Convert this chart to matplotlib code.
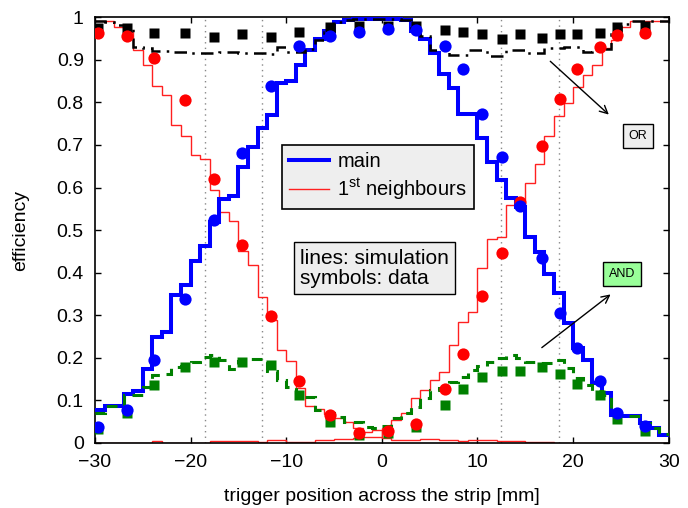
import numpy as np
import matplotlib.pyplot as plt
from matplotlib.lines import Line2D

plt.rcParams['font.family'] = ['Liberation Sans', 'DejaVu Sans']
plt.rcParams['mathtext.fontset'] = 'custom'
plt.rcParams['mathtext.rm'] = 'Liberation Sans'
plt.rcParams['mathtext.it'] = 'Liberation Sans:italic'

# simulation, 1 mm bins from -30 to 30
bin_edges = np.arange(-30, 31)

sim_main = [0.077, 0.087, 0.087, 0.115, 0.123, 0.173, 0.248, 0.261, 0.348, 0.371,
            0.428, 0.463, 0.520, 0.573, 0.580, 0.649, 0.695, 0.739, 0.770, 0.845,
            0.850, 0.889, 0.923, 0.949, 0.968, 0.988, 0.994, 0.995, 0.996, 0.996,
            0.996, 0.995, 0.994, 0.968, 0.949, 0.915, 0.866, 0.833, 0.773, 0.773,
            0.716, 0.661, 0.618, 0.576, 0.555, 0.483, 0.449, 0.397, 0.352, 0.281,
            0.222, 0.195, 0.140, 0.117, 0.066, 0.063, 0.063, 0.046, 0.035, 0.019]

sim_left = [0.992, 0.992, 0.978, 0.965, 0.923, 0.888, 0.839, 0.817, 0.747, 0.720,
            0.677, 0.666, 0.594, 0.543, 0.521, 0.452, 0.418, 0.344, 0.289, 0.218,
            0.193, 0.128, 0.087, 0.079, 0.067, 0.058, 0.050, 0.035, 0.025, 0.030,
            0.012, 0.008, 0.008, 0.008, 0.010, 0.010, 0.008, 0.008, 0.005, 0.006,
            0.006, 0.006, 0.005, 0.004, 0.004, 0.003, 0.003, 0.002, 0.0, 0.0,
            0.0, 0.0, 0.0, 0.0, 0.0, 0.0, 0.0, 0.0, 0.0, 0.0]

sim_right = [0.0, 0.0, 0.0, 0.0, 0.0, 0.0, 0.004, 0.0, 0.0, 0.0,
             0.0, 0.0, 0.004, 0.004, 0.004, 0.004, 0.004, 0.002, 0.006, 0.006,
             0.003, 0.003, 0.003, 0.008, 0.008, 0.010, 0.010, 0.012, 0.015, 0.015,
             0.035, 0.055, 0.070, 0.105, 0.125, 0.148, 0.167, 0.230, 0.285, 0.308,
             0.410, 0.480, 0.485, 0.560, 0.570, 0.610, 0.655, 0.720, 0.767, 0.798,
             0.837, 0.864, 0.888, 0.927, 0.947, 0.978, 0.992, 0.992, 0.992, 0.992]

sim_or = [0.992, 0.990, 0.982, 0.975, 0.931, 0.927, 0.921, 0.921, 0.918, 0.918,
          0.915, 0.915, 0.915, 0.919, 0.919, 0.917, 0.915, 0.915, 0.913, 0.929,
          0.919, 0.919, 0.925, 0.947, 0.965, 0.988, 0.994, 0.995, 0.996, 0.996,
          0.996, 0.995, 0.994, 0.970, 0.955, 0.923, 0.923, 0.911, 0.911, 0.923,
          0.923, 0.910, 0.910, 0.923, 0.923, 0.915, 0.915, 0.927, 0.927, 0.930,
          0.930, 0.919, 0.925, 0.925, 0.960, 0.984, 0.992, 0.992, 0.992, 0.992]

sim_and = [0.070, 0.087, 0.087, 0.113, 0.113, 0.132, 0.160, 0.162, 0.178, 0.181,
           0.191, 0.203, 0.207, 0.195, 0.173, 0.193, 0.197, 0.197, 0.170, 0.148,
           0.131, 0.120, 0.109, 0.078, 0.070, 0.062, 0.050, 0.050, 0.038, 0.035,
           0.040, 0.058, 0.070, 0.085, 0.105, 0.125, 0.130, 0.144, 0.156, 0.171,
           0.180, 0.191, 0.199, 0.207, 0.200, 0.190, 0.187, 0.187, 0.195, 0.175,
           0.152, 0.136, 0.121, 0.113, 0.070, 0.063, 0.063, 0.046, 0.035, 0.020]

# data points
x_data = [-29.7, -26.6, -23.8, -20.6, -17.6, -14.6, -11.6, -8.7, -5.4, -2.4, 0.6, 3.6,
          6.6, 8.45, 10.5, 12.6, 14.45, 16.7, 18.6, 20.45, 22.8, 24.6, 27.5]
main_data = [0.038, 0.078, 0.195, 0.338, 0.524, 0.680, 0.839, 0.933, 0.956, 0.966, 0.972,
             0.969, 0.933, 0.878, 0.772, 0.672, 0.557, 0.434, 0.306, 0.222, 0.146, 0.071, 0.040]
neigh_data = [0.962, 0.955, 0.904, 0.806, 0.619, 0.465, 0.298, 0.146, 0.066, 0.024, 0.029,
              0.045, 0.126, 0.209, 0.345, 0.447, 0.567, 0.698, 0.808, 0.879, 0.931, 0.958, 0.962]
or_data = [0.974, 0.974, 0.962, 0.962, 0.953, 0.960, 0.953, 0.965, 0.978, 0.980, 0.980,
           0.980, 0.969, 0.965, 0.960, 0.949, 0.960, 0.952, 0.960, 0.960, 0.962, 0.978, 0.980]
and_data = [0.033, 0.070, 0.136, 0.179, 0.191, 0.190, 0.183, 0.113, 0.050, 0.019, 0.023,
            0.037, 0.089, 0.126, 0.156, 0.168, 0.170, 0.179, 0.162, 0.139, 0.113, 0.056, 0.028]

strip_lines = [-18.5, -12.5, 12.5, 18.5]

blue = '#0000ff'
red = '#ff2020'
green = '#008000'

fig = plt.figure(figsize=(6.88, 5.08), dpi=100)
ax = fig.add_axes([0.138, 0.128, 0.834, 0.838])

for xv in strip_lines:
    ax.axvline(xv, color='#888888', ls=(0, (1, 3)), lw=1.0, zorder=1)

ax.stairs(sim_left, bin_edges, baseline=None, color=red, lw=1.0, zorder=2)
ax.stairs(sim_right, bin_edges, baseline=None, color=red, lw=1.0, zorder=2)
ax.stairs(sim_main, bin_edges, baseline=None, color=blue, lw=2.9, zorder=3)
ax.stairs(sim_or, bin_edges, baseline=None, color='black', lw=1.8, ls=(0, (5, 2.5, 1, 2.5)), zorder=3)
ax.stairs(sim_and, bin_edges, baseline=None, color=green, lw=2.2, ls=(0, (3.5, 2.5)), zorder=3)

ax.plot(x_data, or_data, 's', color='black', ms=7, mec='none', zorder=4)
ax.plot(x_data, and_data, 's', color=green, ms=7, mec='none', zorder=4)
ax.plot(x_data, neigh_data, 'o', color='#ff0000', ms=8.8, mec='none', zorder=4)
ax.plot(x_data, main_data, 'o', color=blue, ms=8.8, mec='none', zorder=4)

ax.set_xlim(-30, 30)
ax.set_ylim(0, 1)
ax.set_xticks(np.arange(-30, 31, 10))
yt = np.round(np.arange(0, 1.01, 0.1), 1)
ax.set_yticks(yt)
ax.set_yticklabels(['%g' % v for v in yt])
ax.set_xticklabels(['\u2212%d' % -v if v < 0 else '%d' % v for v in np.arange(-30, 31, 10)])
ax.tick_params(direction='in', top=True, right=True, length=4, width=1, labelsize=14, pad=8)
for s in ax.spines.values():
    s.set_linewidth(1.2)
ax.set_xlabel('trigger position across the strip [mm]', fontsize=14, labelpad=12)
ax.set_ylabel('efficiency', fontsize=14, labelpad=20)

handles = [Line2D([], [], color=blue, lw=2.9), Line2D([], [], color=red, lw=1.0)]
leg = ax.legend(handles, ['main', r'1$^{\mathrm{st}}$ neighbours'], loc='upper left',
                bbox_to_anchor=(0.326, 0.70), fontsize=14.5, handlelength=2.0,
                handletextpad=0.4, borderpad=0.35, labelspacing=0.25, fancybox=False,
                framealpha=1, borderaxespad=0)
leg.get_frame().set_facecolor('#eeeeee')
leg.get_frame().set_edgecolor('black')
leg.get_frame().set_linewidth(1.2)

ax.text(0.358, 0.41, 'lines: simulation\nsymbols: data', transform=ax.transAxes,
        fontsize=15, va='center', ha='left', linespacing=1.1,
        bbox=dict(boxstyle='square,pad=0.3', fc='#eeeeee', ec='black', lw=1.0), zorder=6)

ax.text(26.8, 0.721, 'OR', fontsize=9, ha='center', va='center',
        bbox=dict(boxstyle='square,pad=0.45', fc='#eeeeee', ec='black', lw=1.0), zorder=6)
ax.annotate('', xy=(23.95, 0.767), xytext=(17.4, 0.901),
            arrowprops=dict(arrowstyle='->', color='black', lw=1.0, mutation_scale=14), zorder=6)

ax.text(25.1, 0.397, 'AND', fontsize=9, ha='center', va='center',
        bbox=dict(boxstyle='square,pad=0.45', fc='#99ff99', ec='black', lw=1.0), zorder=6)
ax.annotate('', xy=(24.15, 0.353), xytext=(16.5, 0.22),
            arrowprops=dict(arrowstyle='->', color='black', lw=1.0, mutation_scale=14), zorder=6)

fig.savefig('out.png', dpi=100)
